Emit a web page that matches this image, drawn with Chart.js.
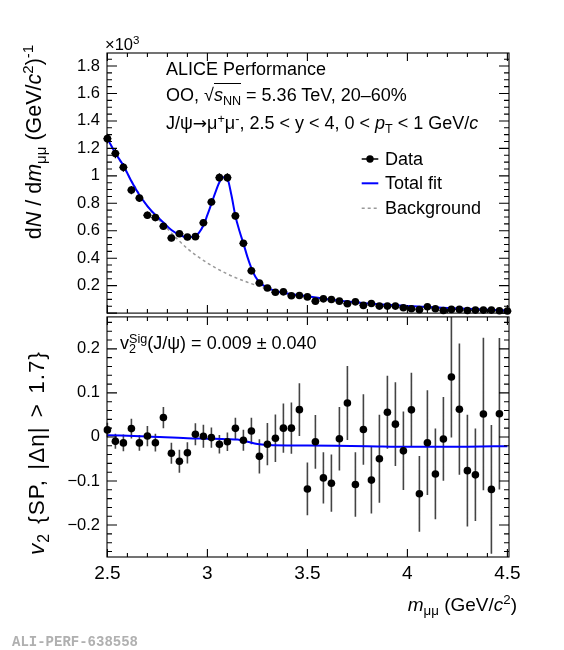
<!DOCTYPE html>
<html>
<head>
<meta charset="utf-8">
<script src="https://cdn.jsdelivr.net/npm/chart.js@4.4.1/dist/chart.umd.min.js"></script>
<style>
  body { margin: 0; background: #fff; }
  #page { position: relative; width: 564px; height: 650px; overflow: hidden; font-family: "Liberation Sans", Arial, sans-serif; color: #000; }
  canvas { position: absolute; left: 0; }
  #top-chart { top: 0; }
  #bottom-chart { top: 300px; }
  .lbl { position: absolute; white-space: nowrap; font-size: 18px; line-height: 18px; }
  .lbl sub, .lbl sup { font-size: 70%; line-height: 0; position: relative; vertical-align: baseline; }
  .lbl sub { top: 0.32em; }
  .lbl sup { top: -0.5em; }
  .rot { transform: translate(-50%, -50%) rotate(-90deg); font-size: 21.5px; line-height: 21.5px; }
  .over { border-top: 1.3px solid #000; padding-top: 1px; }
  .sym { font-family: "DejaVu Sans", sans-serif; font-size: 17px; }
  #tag { position: absolute; left: 12px; top: 635px; font: bold 14px/14px "Liberation Mono", monospace; color: #b0b0b0; }
</style>
</head>
<body>
<div id="page">
  <canvas id="top-chart" width="564" height="330"></canvas>
  <canvas id="bottom-chart" width="564" height="350"></canvas>

  <div class="lbl" style="left:105px;top:36px;font-size:16.5px;line-height:16.5px">&times;10<sup>3</sup></div>
  <div class="lbl" style="left:166px;top:60px">ALICE Performance</div>
  <div class="lbl" style="left:166px;top:86px">OO, √<span class="over"><i>s</i><sub>NN</sub></span> = 5.36 TeV, 20–60%</div>
  <div class="lbl" style="left:166px;top:114px">J/ψ<span class="sym">→</span>μ<sup>+</sup>μ<sup>-</sup>, 2.5 &lt; y &lt; 4, 0 &lt; <i>p</i><sub>T</sub> &lt; 1 GeV/<i>c</i></div>

  <svg style="position:absolute;left:360px;top:149px" width="22" height="70">
    <line x1="1.7" y1="10" x2="18.3" y2="10" stroke="#000" stroke-width="1.5"/>
    <circle cx="10" cy="10" r="3.7" fill="#000"/>
    <line x1="1.7" y1="34.3" x2="18.3" y2="34.3" stroke="#0000ff" stroke-width="2"/>
    <line x1="1.7" y1="59.3" x2="18.3" y2="59.3" stroke="#999" stroke-width="1.5" stroke-dasharray="3,3"/>
  </svg>
  <div class="lbl" style="left:385px;top:150px">Data</div>
  <div class="lbl" style="left:385px;top:174px">Total fit</div>
  <div class="lbl" style="left:385px;top:199px">Background</div>

  <div class="lbl" style="left:120px;top:334px">v<sub>2</sub><sup style="margin-left:-0.55em">Sig</sup>(J/ψ) = 0.009 ± 0.040</div>

  <div class="lbl rot" style="left:35px;top:142px">d<i>N</i> / d<i>m</i><sub>μμ</sub> (GeV/<i>c</i><sup>2</sup>)<sup>-1</sup></div>
  <div class="lbl rot" style="left:37px;top:453px;font-size:22.5px;line-height:22.5px;letter-spacing:1px;word-spacing:2px"><i>v</i><sub>2</sub> {SP, |Δη| &gt; 1.7}</div>
  <div class="lbl" style="right:47px;top:595px;font-size:19px;line-height:19px"><i>m</i><sub>μμ</sub> (GeV/<i>c</i><sup>2</sup>)</div>

  <div id="tag">ALI-PERF-638558</div>
</div>

<script>
// invariant mass bins (GeV/c^2)
const massBins = [2.50, 2.54, 2.58, 2.62, 2.66, 2.70, 2.74, 2.78, 2.82, 2.86,
  2.90, 2.94, 2.98, 3.02, 3.06, 3.10, 3.14, 3.18, 3.22, 3.26,
  3.30, 3.34, 3.38, 3.42, 3.46, 3.50, 3.54, 3.58, 3.62, 3.66,
  3.70, 3.74, 3.78, 3.82, 3.86, 3.90, 3.94, 3.98, 4.02, 4.06,
  4.10, 4.14, 4.18, 4.22, 4.26, 4.30, 4.34, 4.38, 4.42, 4.46, 4.50];

// dN/dm in units of 10^3
const countVals = [1.271, 1.163, 1.062, 0.896, 0.838, 0.713, 0.696, 0.633, 0.547, 0.578,
  0.554, 0.557, 0.658, 0.809, 0.987, 0.987, 0.708, 0.508, 0.308, 0.219,
  0.183, 0.152, 0.155, 0.126, 0.128, 0.118, 0.087, 0.104, 0.099, 0.087,
  0.068, 0.082, 0.056, 0.070, 0.051, 0.051, 0.051, 0.039, 0.032, 0.025,
  0.046, 0.032, 0.019, 0.027, 0.027, 0.019, 0.022, 0.022, 0.022, 0.017, 0.015];
const countErr = [0.035, 0.034, 0.032, 0.030, 0.029, 0.027, 0.026, 0.025, 0.023, 0.024,
  0.023, 0.024, 0.026, 0.028, 0.031, 0.031, 0.027, 0.022, 0.018, 0.015,
  0.014, 0.012, 0.012, 0.011, 0.011, 0.011, 0.009, 0.010, 0.010, 0.009,
  0.008, 0.009, 0.008, 0.008, 0.007, 0.007, 0.007, 0.006, 0.006, 0.005,
  0.007, 0.006, 0.005, 0.005, 0.005, 0.005, 0.005, 0.005, 0.005, 0.004, 0.004];

// total fit curve
const fitMass = [2.50, 2.54, 2.58, 2.62, 2.66, 2.70, 2.74, 2.78, 2.82, 2.86, 2.90, 2.94,
  2.98, 3.00, 3.02, 3.04, 3.06, 3.08, 3.10, 3.12, 3.14, 3.16, 3.18, 3.20, 3.22, 3.24,
  3.26, 3.30, 3.35, 3.40, 3.50, 3.60, 3.70, 3.80, 3.90, 4.00, 4.15, 4.30, 4.50];
const fitTotal = [1.271, 1.165, 1.075, 0.960, 0.860, 0.780, 0.715, 0.660, 0.605, 0.570, 0.552, 0.562,
  0.638, 0.715, 0.797, 0.880, 0.954, 0.990, 0.978, 0.860, 0.708, 0.600, 0.508, 0.410, 0.328, 0.265,
  0.227, 0.183, 0.158, 0.143, 0.123, 0.101, 0.084, 0.070, 0.060, 0.052, 0.040, 0.031, 0.019];

// background component
const bkgMass = [2.50, 2.60, 2.70, 2.80, 2.90, 3.00, 3.10, 3.20, 3.30, 3.40,
  3.50, 3.60, 3.70, 3.80, 3.90, 4.00, 4.15, 4.30, 4.50];
const bkgVals = [1.270, 1.015, 0.778, 0.615, 0.470, 0.365, 0.285, 0.225, 0.176, 0.139,
  0.120, 0.099, 0.083, 0.069, 0.059, 0.051, 0.040, 0.031, 0.019];

// v2 vs mass
const v2Mass = [2.50, 2.54, 2.58, 2.62, 2.66, 2.70, 2.74, 2.78, 2.82, 2.86,
  2.90, 2.94, 2.98, 3.02, 3.06, 3.10, 3.14, 3.18, 3.22, 3.26,
  3.30, 3.34, 3.38, 3.42, 3.46, 3.50, 3.54, 3.58, 3.62, 3.66,
  3.70, 3.74, 3.78, 3.82, 3.86, 3.90, 3.94, 3.98, 4.02, 4.06,
  4.10, 4.14, 4.18, 4.22, 4.26, 4.30, 4.34, 4.38, 4.42, 4.46];
const v2Vals = [0.016, -0.010, -0.0135, 0.019, -0.0135, 0.002, -0.013, 0.044, -0.037, -0.055,
  -0.036, 0.006, 0.0015, -0.0015, -0.0165, -0.011, 0.0195, -0.0075, 0.0135, -0.044,
  -0.0165, -0.003, 0.020, 0.020, 0.062, -0.118, -0.011, -0.093, -0.105, -0.004,
  0.077, -0.108, 0.017, -0.098, -0.0495, 0.056, 0.029, -0.0315, 0.0615, -0.129,
  -0.013, -0.084, -0.0045, 0.136, 0.063, -0.0765, -0.086, 0.052, -0.119, 0.0525];
const v2Err = [0.0165, 0.017, 0.019, 0.0225, 0.018, 0.023, 0.020, 0.024, 0.024, 0.026,
  0.024, 0.025, 0.026, 0.023, 0.021, 0.021, 0.024, 0.024, 0.030, 0.039,
  0.048, 0.054, 0.056, 0.058, 0.060, 0.060, 0.061, 0.058, 0.065, 0.072,
  0.084, 0.073, 0.080, 0.076, 0.100, 0.083, 0.095, 0.089, 0.084, 0.086,
  0.119, 0.103, 0.095, 0.137, 0.149, 0.127, 0.105, 0.173, 0.146, 0.172];

// v2 fit curve
const v2FitMass = [2.50, 2.70, 2.90, 3.00, 3.10, 3.15, 3.20, 3.25, 3.30, 3.50, 3.80, 4.00, 4.30, 4.50];
const v2FitVals = [0.004, 0.001, -0.003, -0.004, -0.005, -0.006, -0.011, -0.016, -0.018, -0.0195, -0.021, -0.0225, -0.022, -0.021];

// tick labels
const massTicks = [2.5, 3, 3.5, 4, 4.5];
const countTicks = [0.2, 0.4, 0.6, 0.8, 1.0, 1.2, 1.4, 1.6, 1.8];
const v2Ticks = [-0.2, -0.1, 0, 0.1, 0.2];

const massMin = 2.498, massMax = 4.508;
const tickFont = { family: 'Liberation Sans', size: 16.5 };

function pts(xs, ys) {
  return ys.map((v, i) => ({ x: xs[i], y: v }));
}

// ROOT style frame with inward ticks on all four sides
const rootFrame = {
  id: 'rootFrame',
  afterDraw(chart, args, opts) {
    const { ctx, chartArea: a, scales: { x, y } } = chart;
    ctx.save();
    ctx.strokeStyle = '#000';
    ctx.lineWidth = 1.1;
    ctx.strokeRect(a.left, a.top, a.width, a.height);
    ctx.beginPath();
    eachTick(x, opts.xMinor, opts.xMajor, (px, big) => {
      const l = big ? 8 : 4;
      ctx.moveTo(px, a.bottom); ctx.lineTo(px, a.bottom - l);
      ctx.moveTo(px, a.top); ctx.lineTo(px, a.top + l);
    });
    eachTick(y, opts.yMinor, opts.yMajor, (py, big) => {
      const l = big ? 10 : 5;
      ctx.moveTo(a.left, py); ctx.lineTo(a.left + l, py);
      ctx.moveTo(a.right, py); ctx.lineTo(a.right - l, py);
    });
    ctx.stroke();
    ctx.restore();
  }
};

function eachTick(scale, minor, major, fn) {
  const start = Math.ceil(scale.min / minor - 1e-6);
  const end = Math.floor(scale.max / minor + 1e-6);
  for (let k = start; k <= end; k++) {
    const v = k * minor;
    const big = Math.abs(v / major - Math.round(v / major)) < 1e-6;
    fn(scale.getPixelForValue(v), big);
  }
}

// error bars, drawn under the markers
const errorBars = {
  id: 'errorBars',
  beforeDatasetsDraw(chart) {
    const { ctx, chartArea: a, scales: { x, y } } = chart;
    ctx.save();
    ctx.beginPath();
    ctx.rect(a.left - 6, a.top, a.width + 12, a.height);
    ctx.clip();
    chart.data.datasets.forEach(ds => {
      if (!ds.errY) return;
      ctx.strokeStyle = ds.errColor;
      ctx.lineWidth = ds.errWidth;
      ctx.beginPath();
      ds.data.forEach((p, j) => {
        const px = x.getPixelForValue(p.x), py = y.getPixelForValue(p.y);
        ctx.moveTo(px, y.getPixelForValue(p.y - ds.errY[j]));
        ctx.lineTo(px, y.getPixelForValue(p.y + ds.errY[j]));
        if (ds.errX) {
          ctx.moveTo(x.getPixelForValue(p.x - ds.errX), py);
          ctx.lineTo(x.getPixelForValue(p.x + ds.errX), py);
        }
      });
      ctx.stroke();
    });
    ctx.restore();
  }
};

const common = {
  responsive: false,
  animation: false,
  events: [],
  plugins: { legend: { display: false }, tooltip: { enabled: false } }
};

// top panel: invariant mass spectrum
new Chart(document.getElementById('top-chart'), {
  type: 'scatter',
  data: {
    datasets: [
      {
        data: pts(massBins, countVals),
        errY: countErr, errX: 0.02, errColor: '#000', errWidth: 1.3,
        pointRadius: 3.8, pointBackgroundColor: '#000', pointBorderWidth: 0,
        clip: false, order: 0
      },
      {
        data: pts(fitMass, fitTotal), showLine: true, borderColor: '#0000ff', borderWidth: 2,
        pointRadius: 0, cubicInterpolationMode: 'monotone', order: 1
      },
      {
        data: pts(bkgMass, bkgVals), showLine: true, borderColor: '#999', borderWidth: 1.5,
        borderDash: [3, 3], pointRadius: 0, cubicInterpolationMode: 'monotone', order: 2
      }
    ]
  },
  options: {
    ...common,
    layout: { padding: { left: 0, right: 55, top: 53, bottom: 15 } },
    plugins: { ...common.plugins, rootFrame: { xMinor: 0.1, xMajor: 0.5, yMinor: 0.05, yMajor: 0.2 } },
    scales: {
      x: { type: 'linear', min: massMin, max: massMax, display: false },
      y: {
        min: 0, max: 1.895,
        afterFit(s) { s.width = 107; },
        afterBuildTicks(s) { s.ticks = countTicks.map(v => ({ value: v })); },
        grid: { display: false, drawTicks: false },
        border: { display: false },
        ticks: {
          padding: 7, color: '#000', font: tickFont, autoSkip: false,
          callback: v => String(Math.round(v * 10) / 10)
        }
      }
    }
  },
  plugins: [errorBars, rootFrame]
});

// bottom panel: v2 vs mass
new Chart(document.getElementById('bottom-chart'), {
  type: 'scatter',
  data: {
    datasets: [
      {
        data: pts(v2Mass, v2Vals),
        errY: v2Err, errColor: '#444', errWidth: 1.6,
        pointRadius: 3.8, pointBackgroundColor: '#000', pointBorderWidth: 0,
        clip: false, order: 0
      },
      {
        data: pts(v2FitMass, v2FitVals), showLine: true, borderColor: '#0000ff', borderWidth: 2,
        pointRadius: 0, cubicInterpolationMode: 'monotone', order: 1
      }
    ]
  },
  options: {
    ...common,
    layout: { padding: { left: 0, right: 55, top: 15, bottom: 0 } },
    plugins: { ...common.plugins, rootFrame: { xMinor: 0.1, xMajor: 0.5, yMinor: 0.02, yMajor: 0.1 } },
    scales: {
      x: {
        type: 'linear', min: massMin, max: massMax,
        afterFit(s) { s.height = 93; },
        afterBuildTicks(s) { s.ticks = massTicks.map(v => ({ value: v })); },
        grid: { display: false, drawTicks: false },
        border: { display: false },
        ticks: {
          padding: 5, color: '#000', font: { family: 'Liberation Sans', size: 19 },
          maxRotation: 0, autoSkip: false, callback: v => String(v)
        }
      },
      y: {
        min: -0.2725, max: 0.2725,
        afterFit(s) { s.width = 107; },
        afterBuildTicks(s) { s.ticks = v2Ticks.map(v => ({ value: v })); },
        grid: { display: false, drawTicks: false },
        border: { display: false },
        ticks: {
          padding: 7, color: '#000', font: tickFont, autoSkip: false,
          callback: v => (v < 0 ? '−' + Math.abs(v) : String(v))
        }
      }
    }
  },
  plugins: [errorBars, rootFrame]
});
</script>
</body>
</html>
